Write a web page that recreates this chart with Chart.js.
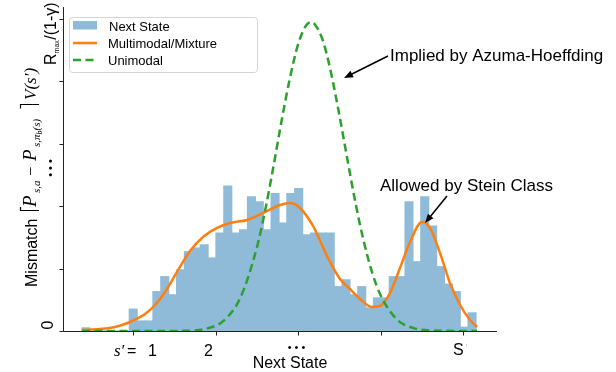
<!DOCTYPE html>
<html><head><meta charset="utf-8">
<script src="https://cdn.jsdelivr.net/npm/chart.js"></script>
<style>html,body{margin:0;padding:0;background:#fff}#wrap{width:616px;height:372px;position:relative}</style>
</head><body><div id="wrap"><canvas id="c" width="616" height="372"></canvas></div>
<script>
// ---- data ----
const binStart = 0.382;
const binWidth = 0.0955;
const histHeights = [0.05,0,0,0,0,0,0.35,0.16,0.16,0.63,0.87,0.58,0.98,1.27,1.33,1.38,1.17,1.57,2.32,1.57,1.62,2.15,2.07,1.62,2.20,1.73,2.20,2.28,1.54,1.57,1.57,1.57,0.71,0.82,0.58,0.71,0.37,0.53,0.53,0.87,0.87,2.07,1.11,2.15,1.68,1.03,0.75,0.63,0.06,0.29];
const mixX = [0.382,0.600,0.782,0.964,1.145,1.267,1.388,1.533,1.691,1.848,2.018,2.176,2.382,2.576,2.782,2.903,3.024,3.182,3.352,3.509,3.630,3.752,3.897,3.994,4.115,4.236,4.358,4.503,4.600,4.721,4.842,4.964,5.085,5.170];
const mixY = [0.016,0.032,0.064,0.144,0.272,0.417,0.625,0.946,1.282,1.506,1.651,1.731,1.779,1.891,2.019,2.051,1.971,1.683,1.202,0.833,0.673,0.513,0.385,0.401,0.609,1.010,1.426,1.747,1.651,1.250,0.769,0.417,0.176,0.064];
const uniX = [0.382,0.8,1.2,1.6,1.9,2.1,2.3,2.5,2.6,2.7,2.8,2.9,3.0,3.1,3.16,3.2,3.3,3.4,3.5,3.6,3.7,3.8,3.9,4.0,4.2,4.4,4.6,5.17];
const uniY = [0,0,0,0.003,0.041,0.166,0.530,1.33,1.92,2.62,3.36,4.04,4.59,4.90,4.95,4.92,4.66,4.14,3.47,2.74,2.03,1.42,0.93,0.576,0.184,0.046,0.009,0];
const xTickValues = [1,2,3,4,5];
const yTickValues = [0,1,2,3,4,5];
const legendLabels = ['Next State','Multimodal/Mixture','Unimodal'];
const xTitle = 'Next State';
const annoAzuma = 'Implied by Azuma-Hoeffding';
const annoStein = 'Allowed by Stein Class';

const SANS = '"Liberation Sans", Arial, Helvetica, sans-serif';
const SERIF = '"Liberation Serif", "Times New Roman", serif';
const BAR_COLOR = '#8fbbd9';
const ORANGE = '#ff7f0e';
const GREEN = '#2ca02c';

function arrow(ctx, x1, y1, x2, y2) {
  const ang = Math.atan2(y2 - y1, x2 - x1);
  const hl = 9, hw = 3.6;
  ctx.save();
  ctx.strokeStyle = '#000'; ctx.fillStyle = '#000'; ctx.lineWidth = 1.5;
  ctx.beginPath(); ctx.moveTo(x1, y1);
  ctx.lineTo(x2 - Math.cos(ang) * hl * 0.8, y2 - Math.sin(ang) * hl * 0.8); ctx.stroke();
  ctx.beginPath();
  ctx.moveTo(x2, y2);
  ctx.lineTo(x2 - Math.cos(ang) * hl + Math.sin(ang) * hw, y2 - Math.sin(ang) * hl - Math.cos(ang) * hw);
  ctx.lineTo(x2 - Math.cos(ang) * hl - Math.sin(ang) * hw, y2 - Math.sin(ang) * hl + Math.cos(ang) * hw);
  ctx.closePath(); ctx.fill();
  ctx.restore();
}

const decor = {
  id: 'decor',
  afterDraw(chart) {
    const ctx = chart.ctx;
    const xs = chart.scales.x, ys = chart.scales.y;
    const a = chart.chartArea;
    ctx.save();
    // spines
    ctx.strokeStyle = '#222'; ctx.lineWidth = 1;
    ctx.beginPath();
    ctx.moveTo(a.left + 0.5, a.top); ctx.lineTo(a.left + 0.5, a.bottom + 0.5);
    ctx.lineTo(a.right, a.bottom + 0.5);
    ctx.stroke();
    // ticks
    ctx.beginPath();
    yTickValues.forEach(v => {
      const y = Math.round(ys.getPixelForValue(v)) + 0.5;
      ctx.moveTo(a.left - 3.5, y); ctx.lineTo(a.left + 0.5, y);
    });
    xTickValues.forEach(v => {
      const x = Math.round(xs.getPixelForValue(v)) + 0.5;
      ctx.moveTo(x, a.bottom + 0.5); ctx.lineTo(x, a.bottom + 4.5);
    });
    ctx.stroke();

    ctx.fillStyle = '#000';
    ctx.textBaseline = 'alphabetic';
    // x tick labels
    const px = v => xs.getPixelForValue(v);
    const base = 356;
    ctx.font = 'italic 17px ' + SERIF; ctx.textAlign = 'left';
    ctx.fillText('s\u2032', px(1) - 19, base);
    ctx.font = '16px ' + SANS;
    ctx.fillText('=', px(1) - 6, base);
    ctx.fillText('1', px(1) + 15, base);
    ctx.textAlign = 'center';
    ctx.fillText('2', px(2) - 7, base);
    ctx.save();
    ctx.font = '11px ' + SANS; ctx.letterSpacing = '3px';
    ctx.fillText('\u2022\u2022\u2022', px(3) + 0, 351);
    ctx.restore();
    ctx.textAlign = 'left';
    ctx.fillText('S', px(5) - 10, 355);
    ctx.save(); ctx.fillStyle = '#999'; ctx.font = '10px ' + SANS;
    ctx.fillText('\u02C8', px(5) + 2, 352); ctx.restore();
    // x title
    ctx.textAlign = 'center';
    ctx.font = '16px ' + SANS;
    ctx.fillText(xTitle, 290, 368);

    // y tick labels (rotated)
    ctx.save();
    ctx.translate(53, ys.getPixelForValue(0) - 6);
    ctx.rotate(-Math.PI / 2);
    ctx.textAlign = 'center'; ctx.font = '16px ' + SANS;
    ctx.fillText('0', 0, 0);
    ctx.restore();
    ctx.save();
    ctx.translate(56, 65);
    ctx.rotate(-Math.PI / 2);
    ctx.textAlign = 'left'; ctx.font = '16px ' + SANS;
    ctx.fillText('R', 0, 0);
    let t = ctx.measureText('R').width;
    ctx.font = '7px ' + SANS;
    ctx.fillText('max', t, 2.5);
    t += ctx.measureText('max').width + 0.5;
    ctx.font = '16px ' + SANS;
    ctx.fillText('/(1-\u03B3)', t, 0);
    ctx.restore();
    // vertical dots
    ctx.save();
    ctx.translate(54, 168);
    ctx.rotate(-Math.PI / 2);
    ctx.textAlign = 'center'; ctx.font = '11px ' + SANS; ctx.letterSpacing = '3px';
    ctx.fillText('\u2022\u2022\u2022', 1.5, 0);
    ctx.restore();

    // y axis label with math
    ctx.save();
    ctx.translate(37, 287);
    ctx.rotate(-Math.PI / 2);
    ctx.textAlign = 'left';
    ctx.font = '16px ' + SANS;
    ctx.fillText('Mismatch', 0, 0);
    ctx.strokeStyle = '#000'; ctx.lineWidth = 1.2;
    ctx.beginPath(); ctx.moveTo(80, -16.5); ctx.lineTo(76.5, -16.5); ctx.lineTo(76.5, 2); ctx.stroke();
    ctx.font = 'italic 19px ' + SERIF; ctx.fillText('P', 80, -1);
    ctx.font = 'italic 11px ' + SERIF; ctx.fillText('s,a', 94, 3);
    ctx.font = '17px ' + SERIF; ctx.fillText('\u2212', 111, -1);
    ctx.font = 'italic 19px ' + SERIF; ctx.fillText('P', 126, -1);
    ctx.font = 'italic 11px ' + SERIF;
    let tt = 140; ctx.fillText('s,\u03C0', tt, 3);
    tt += ctx.measureText('s,\u03C0').width;
    ctx.font = 'italic 8px ' + SERIF; ctx.fillText('b', tt, 5);
    tt += ctx.measureText('b').width;
    ctx.font = 'italic 11px ' + SERIF; ctx.fillText('(s)', tt, 3);
    ctx.beginPath(); ctx.moveTo(178.5, -16.5); ctx.lineTo(182.5, -16.5); ctx.lineTo(182.5, 2); ctx.stroke();
    ctx.font = 'italic 17px ' + SERIF; ctx.fillText('V(s\u2032)', 187, -1);
    ctx.restore();

    // legend
    ctx.save();
    ctx.beginPath();
    ctx.roundRect(69.5, 17.5, 188, 55, 3);
    ctx.fillStyle = 'rgba(255,255,255,0.8)'; ctx.fill();
    ctx.strokeStyle = '#d5d5d5'; ctx.lineWidth = 1; ctx.stroke();
    ctx.fillStyle = BAR_COLOR; ctx.fillRect(73, 21, 24, 8.5);
    ctx.strokeStyle = ORANGE; ctx.lineWidth = 2.5;
    ctx.beginPath(); ctx.moveTo(73, 43); ctx.lineTo(97, 43); ctx.stroke();
    ctx.strokeStyle = GREEN; ctx.setLineDash([8, 4.5]);
    ctx.beginPath(); ctx.moveTo(73, 60); ctx.lineTo(97, 60); ctx.stroke();
    ctx.setLineDash([]);
    ctx.fillStyle = '#000'; ctx.font = '13px ' + SANS; ctx.textAlign = 'left';
    ctx.fillText(legendLabels[0], 109, 31);
    ctx.fillText(legendLabels[1], 108, 48);
    ctx.fillText(legendLabels[2], 108, 65);
    ctx.restore();

    // annotations
    ctx.font = '17px ' + SANS; ctx.textAlign = 'left'; ctx.fillStyle = '#000';
    ctx.fillText(annoAzuma, 390, 61);
    ctx.fillText(annoStein, 380, 191);
    arrow(ctx, 388, 56, 344, 78);
    arrow(ctx, 447, 196, 425, 223);
    ctx.restore();
  }
};

const barData = histHeights.map((v, i) => ({ x: binStart + binWidth * (i + 0.5), y: v }));
const mixData = mixX.map((x, i) => ({ x, y: mixY[i] }));
const uniData = uniX.map((x, i) => ({ x, y: uniY[i] }));

new Chart(document.getElementById('c'), {
  type: 'bar',
  data: {
    datasets: [
      { type: 'bar', label: legendLabels[0], data: barData, backgroundColor: BAR_COLOR,
        borderColor: BAR_COLOR, borderWidth: 0, inflateAmount: 0.6,
        barPercentage: 1.0, categoryPercentage: 1.0, order: 3 },
      { type: 'line', label: legendLabels[1], data: mixData, borderColor: ORANGE, borderWidth: 2.5,
        pointRadius: 0, fill: false, cubicInterpolationMode: 'monotone', order: 2 },
      { type: 'line', label: legendLabels[2], data: uniData, borderColor: GREEN, borderWidth: 2.5,
        borderDash: [8, 4.5], pointRadius: 0, fill: false, cubicInterpolationMode: 'monotone', order: 1 }
    ]
  },
  options: {
    responsive: false,
    animation: false,
    layout: { padding: { left: 63, right: 119, top: 7, bottom: 41 } },
    plugins: { legend: { display: false }, tooltip: { enabled: false } },
    scales: {
      x: { type: 'linear', min: 0.1515, max: 5.412, offset: false, display: false },
      y: { type: 'linear', min: 0, max: 5.192, display: false }
    }
  },
  plugins: [decor]
});
</script>
</body></html>
